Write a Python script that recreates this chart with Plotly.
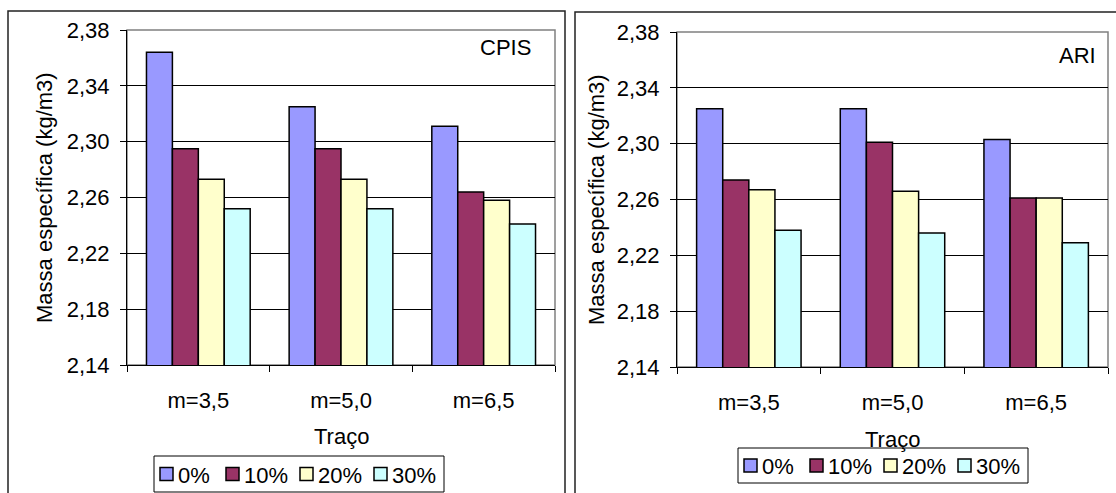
import plotly.graph_objects as go

# Mix designs (traço) and replacement levels
tracos = ["m=3,5", "m=5,0", "m=6,5"]
teores = ["0%", "10%", "20%", "30%"]

# Specific mass (kg/m3) - CPIS cement
cpis_0 = [2.364, 2.325, 2.311]
cpis_10 = [2.295, 2.295, 2.264]
cpis_20 = [2.273, 2.273, 2.258]
cpis_30 = [2.252, 2.252, 2.241]

# Specific mass (kg/m3) - ARI cement
ari_0 = [2.325, 2.325, 2.303]
ari_10 = [2.274, 2.301, 2.261]
ari_20 = [2.267, 2.266, 2.261]
ari_30 = [2.238, 2.236, 2.229]

y_ticks = [2.14, 2.18, 2.22, 2.26, 2.30, 2.34, 2.38]

colors = ["#9999FF", "#993366", "#FFFFCC", "#CCFFFF"]
FONT = "Liberation Sans, Arial, sans-serif"
FS = 22
W, H = 1116, 493

def px(x):
    return x / W

def py(y):
    return (H - y) / H

fig = go.Figure()

cpis = [cpis_0, cpis_10, cpis_20, cpis_30]
ari = [ari_0, ari_10, ari_20, ari_30]

for name, vals, c in zip(teores, cpis, colors):
    fig.add_trace(go.Bar(
        x=tracos, y=vals, name=name, marker=dict(color=c, line=dict(color="black", width=1.5)),
        xaxis="x", yaxis="y", showlegend=False,
    ))
for name, vals, c in zip(teores, ari, colors):
    fig.add_trace(go.Bar(
        x=tracos, y=vals, name=name, marker=dict(color=c, line=dict(color="black", width=1.5)),
        xaxis="x2", yaxis="y2", showlegend=False,
    ))

def yaxis_cfg(dom, anchor):
    return dict(
        domain=dom, anchor=anchor, range=[2.14, 2.38], tickvals=y_ticks, tickformat=".2f",
        showgrid=True, gridcolor="black", gridwidth=1,
        showline=True, linecolor="black", linewidth=1,
        ticks="outside", ticklen=6, tickcolor="black",
        ticklabelstandoff=6,
        tickfont=dict(family=FONT, size=FS, color="black"),
        zeroline=False, fixedrange=True,
    )

def xaxis_cfg(dom, anchor):
    return dict(
        domain=dom, anchor=anchor, type="category",
        showline=True, linecolor="black", linewidth=1,
        ticks="outside", ticklen=6, tickcolor="black", tickson="boundaries",
        ticklabelstandoff=16,
        tickfont=dict(family=FONT, size=FS, color="black"),
        showgrid=False, fixedrange=True,
    )

# Plot areas of the two panels (left, right, top, bottom in px)
L = (127, 555, 30, 365)
R = (677, 1108, 32, 367)

fig.update_layout(
    width=W, height=H,
    margin=dict(l=0, r=0, t=0, b=0, autoexpand=False),
    paper_bgcolor="white", plot_bgcolor="white",
    separators=",.",
    barmode="group", bargap=0.273, bargroupgap=0,
    font=dict(family=FONT, size=FS, color="black"),
    xaxis=xaxis_cfg([px(L[0]), px(L[1])], "y"),
    yaxis=yaxis_cfg([py(L[3]), py(L[2])], "x"),
    xaxis2=xaxis_cfg([px(R[0]), px(R[1])], "y2"),
    yaxis2=yaxis_cfg([py(R[3]), py(R[2])], "x2"),
    showlegend=False,
)

shapes = []
annotations = []

# Outer chart frames
shapes.append(dict(type="rect", xref="paper", yref="paper", x0=px(8), x1=px(565), y0=py(500), y1=py(11),
                   line=dict(color="#222222", width=1.5), layer="below"))
shapes.append(dict(type="rect", xref="paper", yref="paper", x0=px(575), x1=px(1125), y0=py(500), y1=py(12),
                   line=dict(color="#222222", width=1.5), layer="below"))
# Grey plot-area borders
for (x0, x1, y0, y1) in (L, R):
    shapes.append(dict(type="rect", xref="paper", yref="paper", x0=px(x0), x1=px(x1), y0=py(y1), y1=py(y0),
                       line=dict(color="#808080", width=1.5), layer="below"))

# Legend boxes: swatch + label for each replacement level
def add_legend(left, top, bottom):
    shapes.append(dict(type="rect", xref="paper", yref="paper", x0=px(left), x1=px(left + 290),
                       y0=py(bottom), y1=py(top), line=dict(color="black", width=1), fillcolor="white",
                       layer="above"))
    cy = (top + bottom) / 2
    for off, name, c in zip([6, 72, 146, 220], teores, colors):
        sx = left + off
        shapes.append(dict(type="rect", xref="paper", yref="paper", x0=px(sx), x1=px(sx + 13),
                           y0=py(cy + 6.5), y1=py(cy - 6.5), line=dict(color="black", width=1.5),
                           fillcolor=c, layer="above"))
        annotations.append(dict(text=name, x=px(sx + 16), y=py(cy + 1), xref="paper", yref="paper",
                                xanchor="left", yanchor="middle", showarrow=False,
                                font=dict(family=FONT, size=FS, color="black")))

add_legend(154, 456, 492)
add_legend(738, 448, 483)

fig.update_layout(shapes=shapes)

annotations += [
    dict(text="CPIS", x=px(533), y=py(47), xref="paper", yref="paper", xanchor="right", yanchor="middle",
         showarrow=False, font=dict(family=FONT, size=FS, color="black")),
    dict(text="ARI", x=px(1098), y=py(55), xref="paper", yref="paper", xanchor="right", yanchor="middle",
         showarrow=False, font=dict(family=FONT, size=FS, color="black")),
    dict(text="Massa específica (kg/m3)", x=px(45), y=py(198), xref="paper", yref="paper",
         xanchor="center", yanchor="middle", textangle=-90, showarrow=False,
         font=dict(family=FONT, size=FS, color="black")),
    dict(text="Massa específica (kg/m3)", x=px(596), y=py(200), xref="paper", yref="paper",
         xanchor="center", yanchor="middle", textangle=-90, showarrow=False,
         font=dict(family=FONT, size=FS, color="black")),
    dict(text="Traço", x=px(341), y=py(436), xref="paper", yref="paper", xanchor="center", yanchor="middle",
         showarrow=False, font=dict(family=FONT, size=FS, color="black")),
    dict(text="Traço", x=px(892), y=py(439), xref="paper", yref="paper", xanchor="center", yanchor="middle",
         showarrow=False, font=dict(family=FONT, size=FS, color="black")),
]
fig.update_layout(annotations=annotations)

fig.write_html("out.html")
